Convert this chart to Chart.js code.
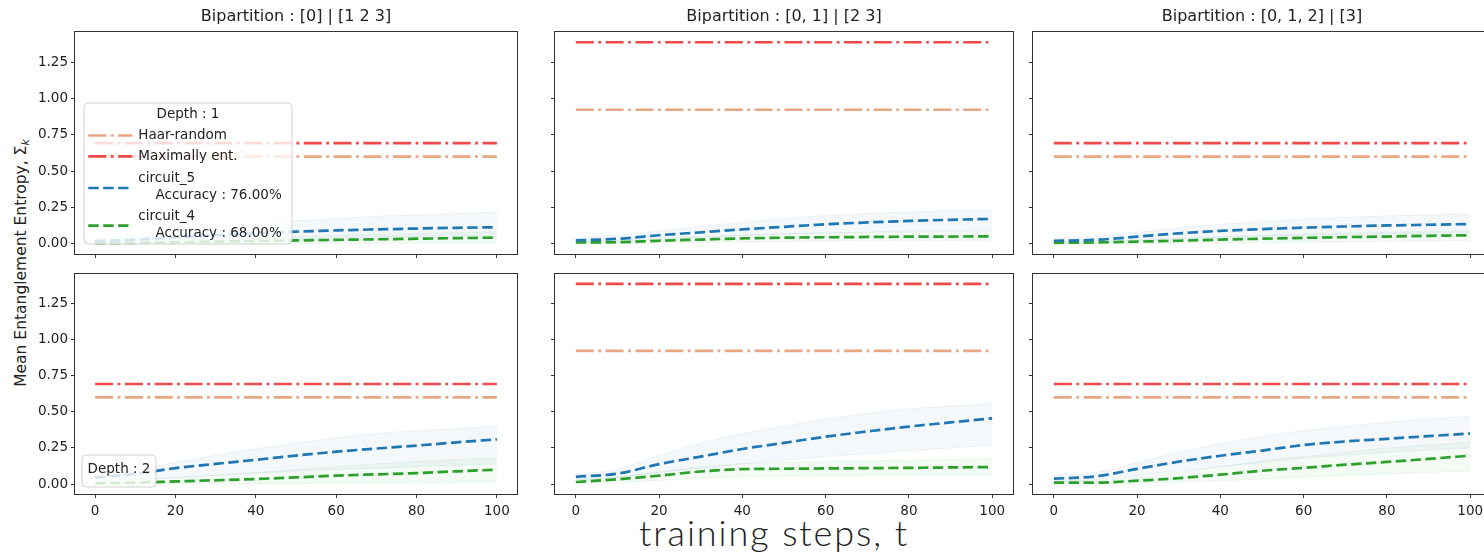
<!DOCTYPE html>
<html>
<head>
<meta charset="utf-8">
<title>Mean entanglement entropy during training</title>
<script src="https://cdn.jsdelivr.net/npm/chart.js@4.4.1/dist/chart.umd.min.js"></script>
<style>
  html, body { margin: 0; padding: 0; background: #fff; }
  body { width: 1484px; height: 554px; overflow: hidden; position: relative; font-family: "DejaVu Sans", sans-serif; }
  canvas.panel { position: absolute; }
  #ylabel { position: absolute; left: 22px; top: 263px; transform: translate(-50%, -50%) rotate(-90deg);
            font-size: 15.5px; white-space: nowrap; color: #222; }
  #ylabel sub { font-style: italic; font-size: 11px; vertical-align: -3px; }
  #xlabel { position: absolute; left: 774px; top: 512px; transform: translateX(-50%);
            font-family: Lato, "Open Sans", sans-serif; font-weight: 300; font-size: 36px;
            line-height: 40px; white-space: nowrap; color: #222; }
</style>
</head>
<body>
<div id="ylabel">Mean Entanglement Entropy, Σ<sub>k</sub></div>
<div id="xlabel">training steps, t</div>
<script>
// ---------------- data ----------------
const steps = [0, 10, 20, 30, 40, 50, 60, 70, 80, 90, 100];
const xTickValues = [0, 20, 40, 60, 80, 100];
const yTickValues = [0, 0.25, 0.5, 0.75, 1.0, 1.25];
const bipartitions = ['[0] | [1 2 3]', '[0, 1] | [2 3]', '[0, 1, 2] | [3]'];
const depths = [1, 2];
const maxEntangled = [0.693, 1.386, 0.693];
const haarRandom = [0.600, 0.922, 0.600];
const circuitNames = ['circuit_5', 'circuit_4'];
const accuracies = [76.00, 68.00];

// mean entropy over runs, one row per bipartition
const circuit5MeanDepth1 = [
  [0.020, 0.030, 0.045, 0.060, 0.075, 0.085, 0.093, 0.100, 0.106, 0.111, 0.115],
  [0.025, 0.035, 0.060, 0.080, 0.100, 0.118, 0.135, 0.148, 0.158, 0.166, 0.172],
  [0.022, 0.028, 0.050, 0.073, 0.090, 0.102, 0.112, 0.120, 0.127, 0.132, 0.137]
];
const circuit4MeanDepth1 = [
  [0.005, 0.008, 0.012, 0.016, 0.020, 0.024, 0.028, 0.032, 0.036, 0.040, 0.044],
  [0.010, 0.012, 0.022, 0.030, 0.038, 0.043, 0.046, 0.048, 0.050, 0.051, 0.052],
  [0.008, 0.010, 0.016, 0.022, 0.030, 0.036, 0.042, 0.047, 0.051, 0.056, 0.060]
];
const circuit5MeanDepth2 = [
  [0.045, 0.070, 0.110, 0.140, 0.168, 0.197, 0.224, 0.246, 0.266, 0.289, 0.310],
  [0.050, 0.072, 0.138, 0.190, 0.243, 0.285, 0.328, 0.364, 0.398, 0.427, 0.455],
  [0.037, 0.053, 0.105, 0.155, 0.196, 0.232, 0.270, 0.295, 0.313, 0.332, 0.350]
];
const circuit4MeanDepth2 = [
  [0.005, 0.010, 0.018, 0.026, 0.035, 0.046, 0.058, 0.067, 0.076, 0.088, 0.100],
  [0.014, 0.033, 0.058, 0.087, 0.103, 0.106, 0.108, 0.110, 0.112, 0.115, 0.118],
  [0.010, 0.010, 0.023, 0.041, 0.065, 0.092, 0.112, 0.134, 0.153, 0.174, 0.197]
];

// highest and lowest individual runs
const circuit5HighDepth1 = [
  [0.040, 0.060, 0.090, 0.115, 0.140, 0.160, 0.175, 0.190, 0.200, 0.210, 0.220],
  [0.040, 0.060, 0.090, 0.120, 0.150, 0.175, 0.195, 0.210, 0.220, 0.228, 0.235],
  [0.040, 0.050, 0.080, 0.110, 0.135, 0.155, 0.170, 0.183, 0.193, 0.200, 0.207]
];
const circuit5LowDepth1 = [
  [0.005, 0.010, 0.015, 0.022, 0.030, 0.036, 0.042, 0.048, 0.052, 0.056, 0.060],
  [0.010, 0.015, 0.030, 0.045, 0.058, 0.068, 0.076, 0.082, 0.088, 0.092, 0.096],
  [0.008, 0.012, 0.022, 0.034, 0.045, 0.053, 0.060, 0.066, 0.070, 0.074, 0.078]
];
const circuit4HighDepth1 = [
  [0.015, 0.020, 0.028, 0.036, 0.044, 0.052, 0.060, 0.066, 0.072, 0.078, 0.084],
  [0.020, 0.025, 0.040, 0.052, 0.062, 0.070, 0.075, 0.079, 0.082, 0.085, 0.088],
  [0.020, 0.022, 0.030, 0.040, 0.050, 0.060, 0.068, 0.075, 0.080, 0.085, 0.090]
];
const circuit4LowDepth1 = [
  [0.000, 0.000, 0.000, 0.000, 0.000, 0.002, 0.004, 0.005, 0.006, 0.007, 0.008],
  [0.000, 0.002, 0.006, 0.010, 0.014, 0.017, 0.020, 0.022, 0.023, 0.024, 0.025],
  [0.000, 0.000, 0.002, 0.004, 0.007, 0.010, 0.013, 0.016, 0.018, 0.020, 0.022]
];
const circuit5HighDepth2 = [
  [0.060, 0.100, 0.150, 0.200, 0.245, 0.285, 0.320, 0.350, 0.370, 0.385, 0.400],
  [0.070, 0.100, 0.200, 0.280, 0.350, 0.400, 0.450, 0.490, 0.520, 0.540, 0.560],
  [0.060, 0.080, 0.150, 0.220, 0.280, 0.330, 0.370, 0.400, 0.430, 0.450, 0.470]
];
const circuit5LowDepth2 = [
  [0.020, 0.030, 0.045, 0.060, 0.075, 0.090, 0.100, 0.110, 0.120, 0.130, 0.140],
  [0.030, 0.045, 0.080, 0.110, 0.140, 0.165, 0.190, 0.210, 0.230, 0.250, 0.270],
  [0.020, 0.030, 0.060, 0.090, 0.120, 0.150, 0.180, 0.200, 0.220, 0.235, 0.250]
];
const circuit4HighDepth2 = [
  [0.020, 0.030, 0.045, 0.060, 0.080, 0.100, 0.120, 0.140, 0.155, 0.170, 0.180],
  [0.030, 0.050, 0.085, 0.120, 0.140, 0.148, 0.155, 0.160, 0.165, 0.170, 0.175],
  [0.020, 0.025, 0.045, 0.080, 0.120, 0.160, 0.190, 0.220, 0.250, 0.270, 0.290]
];
const circuit4LowDepth2 = [
  [0.000, 0.000, 0.000, 0.000, 0.002, 0.004, 0.006, 0.008, 0.010, 0.012, 0.014],
  [0.002, 0.010, 0.025, 0.040, 0.050, 0.055, 0.058, 0.060, 0.062, 0.064, 0.066],
  [0.000, 0.000, 0.005, 0.012, 0.022, 0.035, 0.048, 0.060, 0.070, 0.080, 0.090]
];

// ---------------- styling ----------------
const BLUE = '#1f77b4', GREEN = '#2ca02c', RED = '#ef4a4a', SALMON = '#e8a682';
const DASH_DOT = [18, 4.5, 2.8, 4.5];
const DASHED = [10.4, 4.5];
const LW = 2.7;

Chart.defaults.font.family = '"DejaVu Sans", sans-serif';
Chart.defaults.color = '#222';

// plot-area rectangles of the 2 x 3 grid (page pixels)
const colEdges = [[75, 517], [555, 1013], [1033, 1491]];
const rowEdges = [[32, 254], [274, 494]];

// full axes frame (all four spines)
const framePlugin = {
  id: 'frame',
  afterDatasetsDraw(chart) {
    const { ctx, chartArea: a } = chart;
    ctx.save();
    ctx.strokeStyle = '#333';
    ctx.lineWidth = 1;
    ctx.strokeRect(Math.round(a.left) - 0.5, Math.round(a.top) - 0.5,
                   Math.round(a.right - a.left) + 1, Math.round(a.bottom - a.top) + 1);
    ctx.restore();
  }
};

// boxed legend inside the axes, lower-left
const legendBoxPlugin = {
  id: 'legendBox',
  afterDraw(chart, args, opts) {
    if (!opts || !opts.title) return;
    const { ctx, chartArea: a } = chart;
    const x = a.left + opts.left, y = a.bottom - opts.bottom - opts.height;
    const w = opts.width, h = opts.height, r = 4;
    ctx.save();
    ctx.beginPath();
    ctx.moveTo(x + r, y);
    ctx.lineTo(x + w - r, y); ctx.quadraticCurveTo(x + w, y, x + w, y + r);
    ctx.lineTo(x + w, y + h - r); ctx.quadraticCurveTo(x + w, y + h, x + w - r, y + h);
    ctx.lineTo(x + r, y + h); ctx.quadraticCurveTo(x, y + h, x, y + h - r);
    ctx.lineTo(x, y + r); ctx.quadraticCurveTo(x, y, x + r, y);
    ctx.closePath();
    ctx.fillStyle = 'rgba(255,255,255,0.8)';
    ctx.fill();
    ctx.strokeStyle = 'rgba(204,204,204,0.9)';
    ctx.lineWidth = 1;
    ctx.stroke();

    ctx.font = '13.5px "DejaVu Sans"';
    ctx.fillStyle = '#222';
    ctx.textBaseline = 'middle';
    ctx.textAlign = 'center';
    ctx.fillText(opts.title, x + w / 2, y + opts.titleY);
    ctx.textAlign = 'left';

    (opts.entries || []).forEach(entry => {
      const ds = chart.data.datasets.find(d => d.label === entry.label);
      if (!ds) return;
      const sy = y + entry.y;
      ctx.save();
      ctx.strokeStyle = ds.borderColor;
      ctx.lineWidth = ds.borderWidth;
      ctx.setLineDash(ds.borderDash || []);
      ctx.beginPath();
      ctx.moveTo(x + opts.sampleX, sy);
      ctx.lineTo(x + opts.sampleX + opts.sampleLen, sy);
      ctx.stroke();
      ctx.restore();
      const lines = ds.legendLines;
      const offs = lines.length === 1 ? [0] : [-9.5, 7.5];
      lines.forEach((t, i) => ctx.fillText(t, x + opts.textX, sy + offs[i]));
    });
    ctx.restore();
  }
};

function pts(values) {
  return steps.map((s, i) => ({ x: s, y: values[i] }));
}
function flat(v) {
  return [{ x: steps[0], y: v }, { x: steps[steps.length - 1], y: v }];
}

function makePanel(row, col) {
  const [L, R] = colEdges[col];
  const [T, B] = rowEdges[row];
  const yAxisW = col === 0 ? 60 : 8;
  const xAxisH = row === 1 ? 34 : 8;
  const canvasLeft = L - yAxisW;
  const canvasTop = row === 0 ? 0 : T - 6;
  const width = R - canvasLeft + 2;
  const height = B - canvasTop + xAxisH;

  const cv = document.createElement('canvas');
  cv.className = 'panel';
  cv.width = width; cv.height = height;
  cv.style.left = canvasLeft + 'px';
  cv.style.top = canvasTop + 'px';
  cv.style.width = width + 'px';
  cv.style.height = height + 'px';
  document.body.appendChild(cv);

  const d1 = row === 0;
  const c5Mean = (d1 ? circuit5MeanDepth1 : circuit5MeanDepth2)[col];
  const c4Mean = (d1 ? circuit4MeanDepth1 : circuit4MeanDepth2)[col];
  const c5Hi = (d1 ? circuit5HighDepth1 : circuit5HighDepth2)[col];
  const c5Lo = (d1 ? circuit5LowDepth1 : circuit5LowDepth2)[col];
  const c4Hi = (d1 ? circuit4HighDepth1 : circuit4HighDepth2)[col];
  const c4Lo = (d1 ? circuit4LowDepth1 : circuit4LowDepth2)[col];

  const runLine = (label, data, color, fill, bg) => ({
    label, data: pts(data), borderColor: color, borderWidth: 1, pointRadius: 0,
    fill, backgroundColor: bg, cubicInterpolationMode: 'monotone', order: 4
  });

  const datasets = [
    runLine('circuit_5 runs high', c5Hi, 'rgba(31,119,180,0.07)', false),
    runLine('circuit_5 runs low', c5Lo, 'rgba(31,119,180,0.07)', '-1', 'rgba(31,119,180,0.05)'),
    runLine('circuit_4 runs high', c4Hi, 'rgba(44,160,44,0.07)', false),
    runLine('circuit_4 runs low', c4Lo, 'rgba(44,160,44,0.07)', '-1', 'rgba(44,160,44,0.05)'),
    { label: 'Haar-random', data: flat(haarRandom[col]), borderColor: SALMON, borderWidth: LW,
      borderDash: DASH_DOT, pointRadius: 0, fill: false, order: 2, legendLines: ['Haar-random'] },
    { label: 'Maximally ent.', data: flat(maxEntangled[col]), borderColor: RED, borderWidth: LW,
      borderDash: DASH_DOT, pointRadius: 0, fill: false, order: 2, legendLines: ['Maximally ent.'] },
    { label: circuitNames[0], data: pts(c5Mean), borderColor: BLUE, borderWidth: LW, borderDash: DASHED,
      pointRadius: 0, fill: false, cubicInterpolationMode: 'monotone', order: 1,
      legendLines: [circuitNames[0], '    Accuracy : ' + accuracies[0].toFixed(2) + '%'] },
    { label: circuitNames[1], data: pts(c4Mean), borderColor: GREEN, borderWidth: LW, borderDash: DASHED,
      pointRadius: 0, fill: false, cubicInterpolationMode: 'monotone', order: 1,
      legendLines: [circuitNames[1], '    Accuracy : ' + accuracies[1].toFixed(2) + '%'] }
  ];

  let legendOpts = {};
  if (col === 0 && row === 0) {
    legendOpts = {
      title: 'Depth : ' + depths[0], left: 9, bottom: 10, width: 208, height: 141, titleY: 11,
      sampleX: 4.3, sampleLen: 44, textX: 54.3,
      entries: [
        { label: 'Haar-random', y: 32.5 },
        { label: 'Maximally ent.', y: 53.4 },
        { label: circuitNames[0], y: 85 },
        { label: circuitNames[1], y: 122.7 }
      ]
    };
  } else if (col === 0 && row === 1) {
    legendOpts = { title: 'Depth : ' + depths[1], left: 7, bottom: 7, width: 74, height: 32, titleY: 14, entries: [] };
  }

  new Chart(cv, {
    type: 'line',
    data: { datasets },
    options: {
      responsive: false,
      animation: false,
      devicePixelRatio: 1,
      layout: { padding: { top: row === 0 ? 0 : 6, right: 2, left: 0, bottom: 0 } },
      plugins: {
        legend: { display: false },
        tooltip: { enabled: false },
        title: {
          display: row === 0,
          text: 'Bipartition : ' + bipartitions[col],
          fullSize: false,
          font: { size: 16, weight: 'normal' },
          color: '#222',
          padding: { top: 7, bottom: 6 }
        },
        legendBox: legendOpts
      },
      scales: {
        x: {
          type: 'linear', min: -5, max: 105,
          afterBuildTicks: s => { s.ticks = xTickValues.map(v => ({ value: v })); },
          afterFit: s => { s.height = xAxisH; s.paddingLeft = 0; s.paddingRight = 0; },
          ticks: { display: row === 1, font: { size: 13.5 }, color: '#222', padding: 5,
                   maxRotation: 0, autoSkip: false, callback: v => String(v) },
          grid: { display: true, drawOnChartArea: false, drawTicks: true, tickLength: 4,
                  tickColor: '#333', tickWidth: 1 },
          border: { display: false }
        },
        y: {
          type: 'linear', min: -0.069, max: 1.455,
          afterBuildTicks: s => { s.ticks = yTickValues.map(v => ({ value: v })); },
          afterFit: s => { s.width = yAxisW; s.paddingTop = 0; s.paddingBottom = 0; },
          ticks: { display: col === 0, font: { size: 13.5 }, color: '#222', padding: 3,
                   callback: v => Number(v).toFixed(2) },
          grid: { display: true, drawOnChartArea: false, drawTicks: true, tickLength: 4,
                  tickColor: '#333', tickWidth: 1 },
          border: { display: false }
        }
      }
    },
    plugins: [framePlugin, legendBoxPlugin]
  });
}

for (let r = 0; r < 2; r++) {
  for (let c = 0; c < 3; c++) makePanel(r, c);
}

// spread the shared x label to its intended width
(function fitXLabel() {
  const el = document.getElementById('xlabel');
  const target = 268;
  const n = el.textContent.length;
  const w = el.getBoundingClientRect().width;
  if (w < target) {
    const ls = (target - w) / (n - 1);
    el.style.letterSpacing = ls + 'px';
    el.style.marginRight = (-ls) + 'px';
  }
})();
</script>
</body>
</html>
